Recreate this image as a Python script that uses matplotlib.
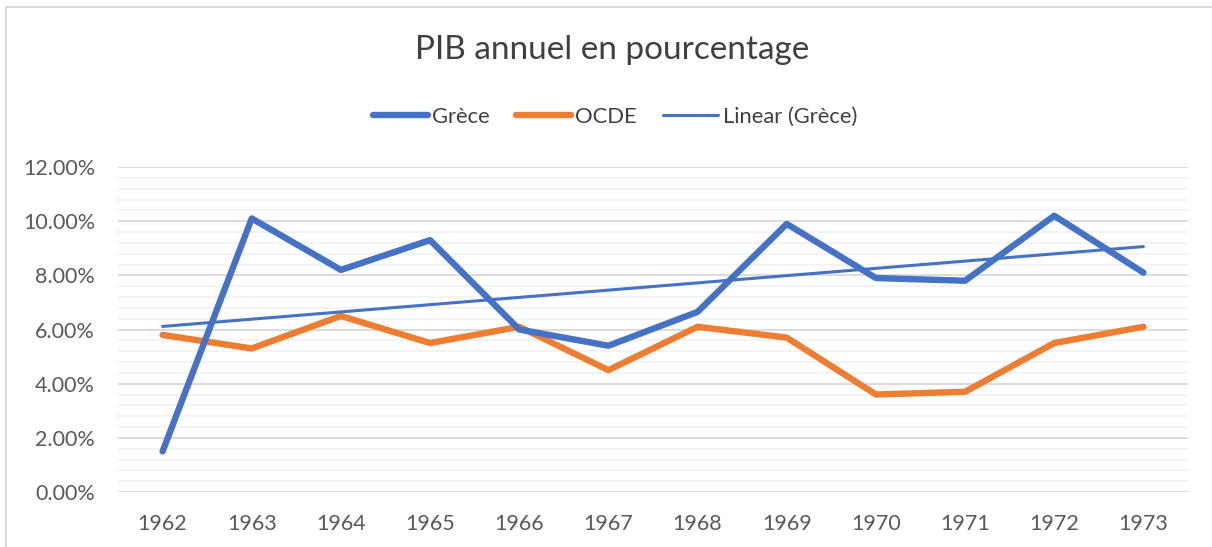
import numpy as np
import matplotlib
matplotlib.use("Agg")
import matplotlib.pyplot as plt
from matplotlib.ticker import MultipleLocator, FuncFormatter
from matplotlib.lines import Line2D

years = ["1962", "1963", "1964", "1965", "1966", "1967", "1968", "1969", "1970", "1971", "1972", "1973"]
grece = [1.5, 10.1, 8.2, 9.3, 6.0, 5.4, 6.65, 9.9, 7.9, 7.8, 10.2, 8.1]
ocde = [5.8, 5.3, 6.5, 5.5, 6.1, 4.5, 6.1, 5.7, 3.6, 3.7, 5.5, 6.1]

BLUE = "#4472C4"
ORANGE = "#ED7D31"
TXT = "#595959"

plt.rcParams['font.family'] = ['Lato', 'DejaVu Sans']

W, H = 1212, 547
fig = plt.figure(figsize=(W / 100, H / 100), dpi=100)
ax = fig.add_axes([118 / W, 1 - 492 / H, (1188 - 118) / W, (492 - 167) / H])

x = np.arange(len(years))
coef = np.polyfit(x, grece, 1)
trend = np.polyval(coef, x)

ax.plot(x, grece, color=BLUE, lw=4.6, solid_capstyle='round', solid_joinstyle='round', zorder=4)
ax.plot(x, ocde, color=ORANGE, lw=4.6, solid_capstyle='round', solid_joinstyle='round', zorder=3)
ax.plot(x, trend, color=BLUE, lw=2.2, solid_capstyle='round', zorder=5)

ax.set_xlim(-0.5, len(years) - 0.5)
ax.set_ylim(0, 12)
ax.yaxis.set_major_locator(MultipleLocator(2))
ax.yaxis.set_minor_locator(MultipleLocator(0.4))
ax.yaxis.set_major_formatter(FuncFormatter(lambda v, p: f"{v:.2f}%"))
ax.set_xticks(x)
ax.set_xticklabels(years)
ax.grid(axis='y', which='major', color='#D9D9D9', lw=1.3, zorder=0)
ax.grid(axis='y', which='minor', color='#F2F2F2', lw=1.3, zorder=0)
ax.set_axisbelow(True)
for s in ax.spines.values():
    s.set_visible(False)
ax.tick_params(axis='both', which='both', length=0, colors=TXT, labelsize=15.5)
ax.tick_params(axis='x', pad=15.5)
ax.tick_params(axis='y', pad=16.5)

fig.text(612 / W, 1 - 50 / H, "PIB annuel en pourcentage", ha='center', va='center',
         fontsize=24, color='#404040')

handles = [
    Line2D([], [], color=BLUE, lw=4.6, solid_capstyle='round'),
    Line2D([], [], color=ORANGE, lw=4.6, solid_capstyle='round'),
    Line2D([], [], color=BLUE, lw=2.2, solid_capstyle='round'),
]
fig.legend(handles, ["Grèce", "OCDE", "Linear (Grèce)"], loc='center',
           bbox_to_anchor=(615 / W, 1 - 117 / H), ncol=3, frameon=False,
           fontsize=15.8, handlelength=2.5, handletextpad=0.2, columnspacing=1.2,
           labelcolor='#404040')

# chart border (top and left visible)
fig.add_artist(Line2D([6 / W, 6 / W], [0, 1 - 7 / H], color='#D9D9D9', lw=1.5))
fig.add_artist(Line2D([6 / W, 1], [1 - 7 / H, 1 - 7 / H], color='#D9D9D9', lw=1.5))

fig.savefig("out.png", dpi=100, facecolor='white')
